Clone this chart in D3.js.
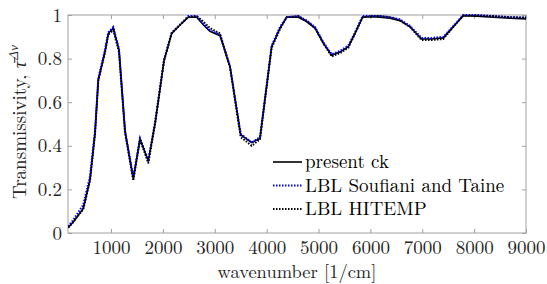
<!DOCTYPE html>
<html><head><meta charset="utf-8">
<script src="https://cdn.jsdelivr.net/npm/d3@7"></script>
<style>body{margin:0;background:#fff}svg{display:block}</style>
</head><body><svg id="c" width="547" height="284"></svg>
<script>
// data
const wnCk = [176,272,466,595,692,755,884,948,1044,1154,1270,1430,1559,1719,1848,2022,2170,2330,2490,2652,2779,2908,3101,3294,3500,3712,3872,4097,4258,4387,4611,4772,4933,5094,5254,5414,5575,5704,5851,6026,6186,6378,6571,6764,6988,7181,7406,7599,7792,8049,8370,8698,9000];
const tauCk = [0.025,0.05,0.113,0.243,0.457,0.70,0.83,0.916,0.94,0.84,0.47,0.25,0.43,0.33,0.50,0.79,0.916,0.954,0.99,0.99,0.955,0.925,0.905,0.763,0.45,0.415,0.434,0.855,0.94,0.99,0.99,0.97,0.94,0.87,0.815,0.83,0.855,0.916,0.99,0.992,0.99,0.985,0.974,0.946,0.89,0.89,0.895,0.946,0.997,0.995,0.99,0.985,0.982];
const tauSoufiani = [0.03,0.06,0.13,0.26,0.47,0.71,0.84,0.92,0.945,0.845,0.47,0.255,0.435,0.335,0.505,0.795,0.92,0.955,0.995,0.995,0.96,0.93,0.91,0.765,0.455,0.415,0.44,0.86,0.945,0.99,0.995,0.975,0.945,0.875,0.82,0.835,0.86,0.92,0.995,0.995,0.995,0.99,0.98,0.95,0.895,0.895,0.9,0.95,1.0,1.0,0.995,0.99,0.988];
const tauHitemp = [0.025,0.05,0.11,0.24,0.455,0.70,0.83,0.91,0.93,0.83,0.46,0.24,0.43,0.32,0.50,0.79,0.915,0.955,0.99,0.995,0.97,0.94,0.915,0.76,0.44,0.40,0.43,0.85,0.935,0.99,0.995,0.97,0.94,0.87,0.81,0.825,0.85,0.915,0.99,0.995,0.995,0.99,0.975,0.945,0.885,0.885,0.89,0.945,0.998,0.998,0.995,0.99,0.988];
const xTicks = [1000,2000,3000,4000,5000,6000,7000,8000,9000];
const yTicks = [0,0.2,0.4,0.6,0.8,1];
const legendLabels = ["present ck","LBL Soufiani and Taine","LBL HITEMP"];

const FONT = "'Latin Modern Roman', 'Liberation Serif', serif";
const svg = d3.select("#c");
const L=68,R=526,T=15,B=233;
const x = d3.scaleLinear().domain([171,9000]).range([L,R]);
const y = d3.scaleLinear().domain([0,1]).range([B,T]);
const axisCol="#a0a0a0", txtCol="#262626";

svg.append("rect").attr("x",L).attr("y",T).attr("width",R-L).attr("height",B-T).attr("fill","none").attr("stroke",axisCol).attr("stroke-width",1);

function styleAxis(g){ g.attr("font-family",null); g.select(".domain").remove(); g.selectAll(".tick line").attr("stroke",axisCol); g.selectAll("text").attr("fill",txtCol).style("font-size","19px").style("font-family",FONT); }
svg.append("g").attr("transform",`translate(0,${B})`).call(d3.axisBottom(x).tickValues(xTicks).tickSize(-4).tickPadding(7).tickFormat(d3.format("d"))).call(styleAxis);
svg.append("g").attr("transform",`translate(0,${T})`).call(d3.axisTop(x).tickValues(xTicks).tickSize(-4).tickFormat("")).call(styleAxis);
svg.append("g").attr("transform",`translate(${L},0)`).call(d3.axisLeft(y).tickValues(yTicks).tickSize(-4).tickPadding(6).tickFormat(d=>d===0||d===1?d3.format("d")(d):d3.format(".1f")(d))).call(styleAxis);
svg.append("g").attr("transform",`translate(${R},0)`).call(d3.axisRight(y).tickValues(yTicks).tickSize(-4).tickFormat("")).call(styleAxis);

const line = (arr)=>d3.line().x((d,i)=>x(wnCk[i])).y(d=>y(d))(arr);
const series = [
  {v:tauCk, col:"#000", dash:null, w:1.6},
  {v:tauSoufiani, col:"#0000ff", dash:"1.5,1.5", w:2},
  {v:tauHitemp, col:"#000", dash:"1.5,1.5", w:2}
];
svg.append("clipPath").attr("id","cp").append("rect").attr("x",L).attr("y",T-3).attr("width",R-L).attr("height",B-T+6);
const plot = svg.append("g").attr("clip-path","url(#cp)");
series.forEach(s=>{
  plot.append("path").attr("d",line(s.v)).attr("fill","none").attr("stroke",s.col).attr("stroke-width",s.w).attr("stroke-dasharray",s.dash);
});

const lg = svg.append("g");
const ly = [162,185.5,209];
series.forEach((s,i)=>{
  lg.append("line").attr("x1",273).attr("x2",302).attr("y1",ly[i]).attr("y2",ly[i]).attr("stroke",s.col).attr("stroke-width",s.w).attr("stroke-dasharray",s.dash);
  lg.append("text").attr("x",305).attr("y",ly[i]+6).attr("fill","#000").style("font-family",FONT).style("font-size","19px").text(legendLabels[i]);
});

svg.append("text").attr("x",297).attr("y",278).attr("text-anchor","middle").attr("fill",txtCol).style("font-family",FONT).style("font-size","18.5px").text("wavenumber [1/cm]");
const yl = svg.append("text").attr("transform","translate(26,122) rotate(-90)").attr("text-anchor","middle").attr("fill",txtCol).style("font-family",FONT).style("font-size","19px");
yl.append("tspan").text("Transmissivity, ");
yl.append("tspan").style("font-style","italic").text("τ\u0304");
yl.append("tspan").attr("dy",-8).style("font-size","13px").style("font-style","italic").text("Δν");
</script></body></html>
